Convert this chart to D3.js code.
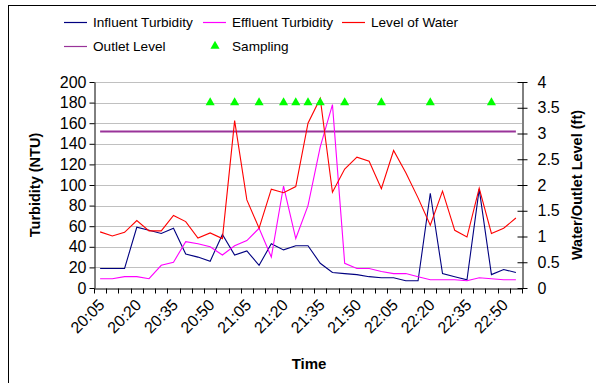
<!DOCTYPE html>
<html>
<head>
<meta charset="utf-8">
<script src="https://cdn.jsdelivr.net/npm/d3@7"></script>
<style>
html,body{margin:0;padding:0;background:#fff;}
svg{display:block;font-family:"Liberation Sans",Arial,sans-serif;}
</style>
</head>
<body>
<svg id="chart" width="596" height="383"></svg>
<script>
// ---- data ----
const timeLabels = ["20:05","20:10","20:15","20:20","20:25","20:30","20:35","20:40","20:45","20:50",
  "20:55","21:00","21:05","21:10","21:15","21:20","21:25","21:30","21:35","21:40",
  "21:45","21:50","21:55","22:00","22:05","22:10","22:15","22:20","22:25","22:30",
  "22:35","22:40","22:45","22:50","22:55"];
const shownTimeLabels = ["20:05","20:20","20:35","20:50","21:05","21:20","21:35","21:50","22:05","22:20","22:35","22:50"];
const influentTurbidity = [19,19,19,59,56,53,58,33,30,26,52,32,36,22,43,37,41,41,24,15,
  14,13,11,10,10,7,7,92,14,11,8,96,13,18,15];
const effluentTurbidity = [9,9,11,11,9,22,25,45,43,40,32,41,46,58,30,99,48,80,137,178,
  24,19,19,16,14,14,11,8,8,8,7,10,9,8,8];
const levelOfWater = [1.09,1.01,1.08,1.31,1.11,1.11,1.41,1.29,0.97,1.07,0.96,3.25,1.71,1.16,1.92,1.85,1.97,3.20,3.68,1.86,
  2.31,2.54,2.46,1.93,2.67,2.24,1.75,1.22,1.88,1.12,0.99,1.94,1.06,1.16,1.36];
const outletLevel = 3.04;
const samplingTimes = ["20:50","21:00","21:10","21:20","21:25","21:30","21:35","21:45","22:00","22:20","22:45"];
const samplingLevel = 3.6;
const leftTicks = [0,20,40,60,80,100,120,140,160,180,200];
const rightTicks = [0,0.5,1,1.5,2,2.5,3,3.5,4];

// ---- layout ----
const svg = d3.select("#chart");
const L = 94, R = 522, T = 82, B = 288;

svg.append("rect").attr("x",8.5).attr("y",5.5).attr("width",600).attr("height",400)
  .attr("fill","#fff").attr("stroke","#000").attr("stroke-width",1);

const x = d3.scaleBand().domain(timeLabels).range([L,R]);
const cx = d => x(d) + x.bandwidth()/2;
const yL = d3.scaleLinear().domain([0,200]).range([B,T]);
const yR = d3.scaleLinear().domain([0,4]).range([B,T]);

// gridlines
svg.append("g").selectAll("line").data(leftTicks.slice(1)).join("line")
  .attr("x1",L).attr("x2",R)
  .attr("y1",d=>Math.round(yL(d))+0.5).attr("y2",d=>Math.round(yL(d))+0.5)
  .attr("stroke","#c0c0c0").attr("stroke-width",1);

// axes
const fontSize = 16;
const gL = svg.append("g").attr("transform",`translate(${L+0.5},0)`)
  .call(d3.axisLeft(yL).tickValues(leftTicks).tickSize(5).tickPadding(3).tickSizeOuter(0));
const gR = svg.append("g").attr("transform",`translate(${R+0.5},0)`)
  .call(d3.axisRight(yR).tickValues(rightTicks).tickFormat(d3.format("")).tickSize(5).tickPadding(10).tickSizeOuter(0));
gR.selectAll(".tick line").attr("x1",-5);
const gX = svg.append("g").attr("transform",`translate(0,${B+0.5})`)
  .call(d3.axisBottom(x).tickValues([]).tickSizeOuter(0));
// category boundary ticks
gX.selectAll("line.cat").data(timeLabels.concat(["end"])).join("line").attr("class","cat")
  .attr("x1",(d,i)=> i<timeLabels.length ? Math.round(x(d))+0.5 : R+0.5)
  .attr("x2",(d,i)=> i<timeLabels.length ? Math.round(x(d))+0.5 : R+0.5)
  .attr("y1",0).attr("y2",5).attr("stroke","#000");
gX.selectAll("text.lbl").data(shownTimeLabels).join("text").attr("class","lbl")
  .attr("transform",d=>`translate(${cx(d)-3},${9}) rotate(-45)`)
  .attr("text-anchor","end").attr("dy","0.75em")
  .attr("font-size",fontSize).attr("fill","#000").text(d=>d);

[gL,gR,gX].forEach(g=>{
  g.selectAll(".domain").attr("stroke","#000");
  g.selectAll(".tick line").attr("stroke","#000");
  g.selectAll("text").attr("font-size",fontSize).attr("fill","#000").attr("font-family",'"Liberation Sans",Arial,sans-serif');
});

// axis titles
svg.append("text").attr("transform",`translate(40,${(T+B)/2}) rotate(-90)`)
  .attr("text-anchor","middle").attr("font-weight","bold").attr("font-size",14.5).text("Turbidity (NTU)");
svg.append("text").attr("transform",`translate(582,${(T+B)/2}) rotate(-90)`)
  .attr("text-anchor","middle").attr("font-weight","bold").attr("font-size",14.5).text("Water/Outlet Level (ft)");
svg.append("text").attr("x",309).attr("y",369)
  .attr("text-anchor","middle").attr("font-weight","bold").attr("font-size",15).text("Time");

// series
const lineL = d3.line().x((d,i)=>cx(timeLabels[i])).y(d=>yL(d));
const lineR = d3.line().x((d,i)=>cx(timeLabels[i])).y(d=>yR(d));
svg.append("line").attr("x1",cx(timeLabels[0])).attr("x2",cx(timeLabels[timeLabels.length-1]))
  .attr("y1",yR(outletLevel)).attr("y2",yR(outletLevel))
  .attr("stroke","#993399").attr("stroke-width",2);
svg.append("path").datum(influentTurbidity).attr("d",lineL).attr("fill","none").attr("stroke","#000080").attr("stroke-width",1.1);
svg.append("path").datum(effluentTurbidity).attr("d",lineL).attr("fill","none").attr("stroke","#ff00ff").attr("stroke-width",1.1);
svg.append("path").datum(levelOfWater).attr("d",lineR).attr("fill","none").attr("stroke","#ff0000").attr("stroke-width",1.1);

const tri = d3.symbol().type(d3.symbolTriangle).size(36);
svg.append("g").selectAll("path").data(samplingTimes).join("path")
  .attr("transform",d=>`translate(${cx(d)},${yR(samplingLevel)})`)
  .attr("d",tri).attr("fill","#00ff00");

// legend
const legend = [
  {name:"Influent Turbidity", color:"#000080", x:64, y:22, type:"line"},
  {name:"Effluent Turbidity", color:"#ff00ff", x:203, y:22, type:"line"},
  {name:"Level of Water", color:"#ff0000", x:342, y:22, type:"line"},
  {name:"Outlet Level", color:"#993399", x:64, y:46, type:"line"},
  {name:"Sampling", color:"#00ff00", x:203, y:46, type:"tri"}
];
const lg = svg.append("g").selectAll("g").data(legend).join("g")
  .attr("transform",d=>`translate(${d.x},${d.y})`);
lg.filter(d=>d.type==="line").append("line").attr("x1",0).attr("x2",23).attr("y1",0.5).attr("y2",0.5)
  .attr("stroke",d=>d.color).attr("stroke-width",1.2);
lg.filter(d=>d.type==="tri").append("path").attr("transform","translate(12,0)").attr("d",tri).attr("fill",d=>d.color);
lg.append("text").attr("x",29).attr("y",0).attr("dy","0.35em").attr("font-size",13.6).attr("fill","#000").text(d=>d.name);
</script>
</body>
</html>
